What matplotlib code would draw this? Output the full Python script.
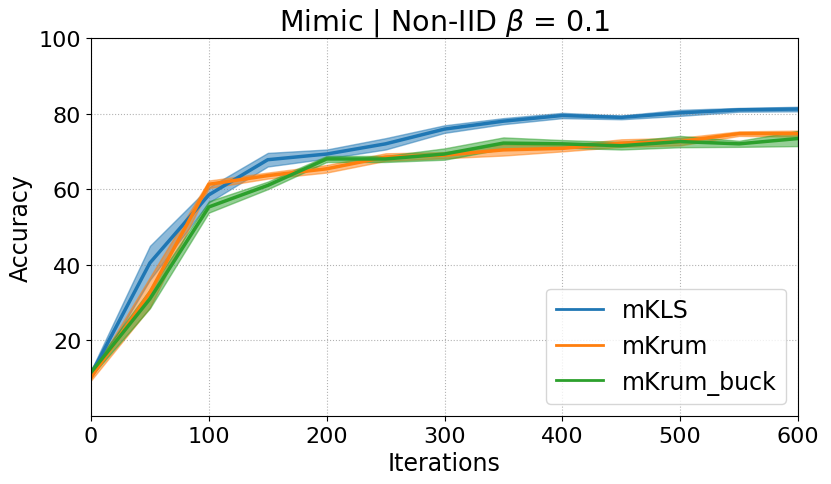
import numpy as np
import matplotlib.pyplot as plt

iters = [0, 50, 100, 150, 200, 250, 300, 350, 400, 450, 500, 550, 600]

mkls = [11, 40.5, 58.5, 67.8, 69.3, 72, 75.9, 78, 79.5, 79, 80.2, 81, 81.2]
mkls_std = [1, 4.5, 2, 1.8, 1.2, 1.5, 1, 0.8, 0.7, 0.5, 0.8, 0.5, 0.6]

mkrum = [10.2, 32.7, 61.3, 63.6, 65.4, 68.5, 69, 70.4, 70.8, 72.2, 72.6, 74.7, 74.7]
mkrum_std = [0.8, 4, 1, 0.8, 1, 1, 0.8, 1.5, 0.8, 1, 1, 0.6, 0.8]

mkrum_buck = [11.5, 31, 55.3, 61, 68, 68, 69.3, 72.2, 72, 71.5, 72.6, 72, 73.4]
mkrum_buck_std = [1, 2.5, 1.5, 1, 0.8, 0.8, 1.5, 1.5, 1, 1, 1.5, 0.8, 2]

labels = ["mKLS", "mKrum", "mKrum_buck"]
colors = ["tab:blue", "tab:orange", "tab:green"]

fig = plt.figure(figsize=(8.31, 4.85), dpi=100)
ax = fig.add_axes([0.1095, 0.1402, 0.8508, 0.7794])

x = np.array(iters)
for m, s, lab, c in zip([mkls, mkrum, mkrum_buck],
                        [mkls_std, mkrum_std, mkrum_buck_std], labels, colors):
    m = np.array(m)
    s = np.array(s)
    ax.plot(x, m, color=c, lw=2.5, label=lab)
    ax.fill_between(x, m - s, m + s, color=c, alpha=0.5)

ax.set_xlim(0, 600)
ax.set_ylim(0, 100)
ax.set_yticks([20, 40, 60, 80, 100])
ax.set_xticks([0, 100, 200, 300, 400, 500, 600])
ax.grid(True, ls=':', color='gray', alpha=0.6)
ax.tick_params(labelsize=16)
ax.set_xlabel("Iterations", fontsize=17)
ax.set_ylabel("Accuracy", fontsize=17)
ax.set_title(r"Mimic | Non-IID $\beta$ = 0.1", fontsize=20.5)
leg = ax.legend(loc='lower right', fontsize=17)
for l in leg.get_lines():
    l.set_linewidth(2)

fig.savefig("out.png", dpi=100)
